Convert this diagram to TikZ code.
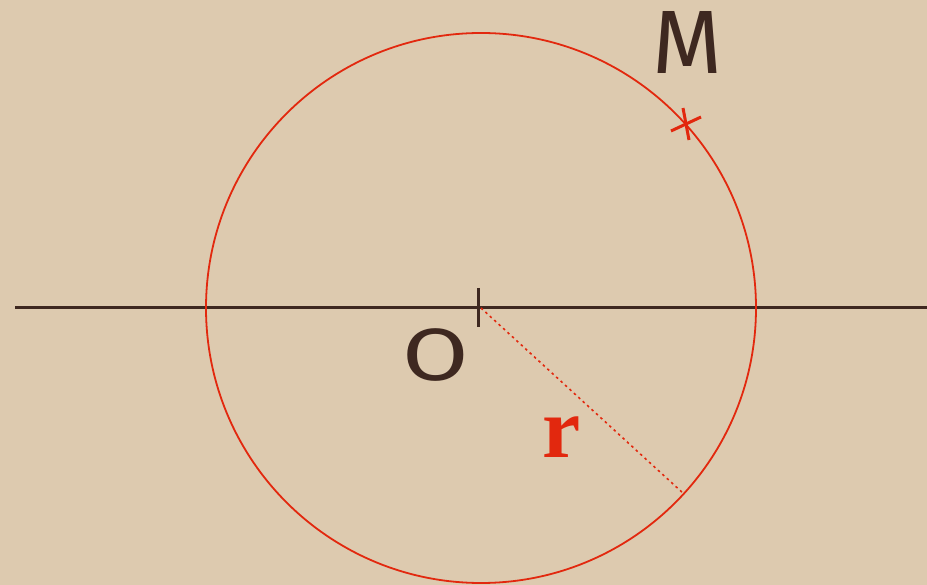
\documentclass[tikz,border=0pt]{standalone}
\usepackage{fontspec}
\usetikzlibrary{calc}
\newfontfamily\handfont{Fira Sans}
\newfontfamily\serifbold{Liberation Serif}
\definecolor{paper}{RGB}{221,202,175}
\definecolor{redline}{RGB}{226,40,14}
\definecolor{ink}{RGB}{62,40,32}
\tikzset{
  axisline/.style={draw=ink, line width=3pt},
  circleline/.style={draw=redline, line width=1.8pt},
  radiusline/.style={draw=redline, line width=1.6pt, dash pattern=on 2.5pt off 3.5pt},
  marker/.style={draw=redline, line width=3pt},
  handlabel/.style={text=ink, font=\handfont\fontsize{90}{90}\selectfont, inner sep=0pt},
}
\begin{document}
\begin{tikzpicture}[x=1pt,y=-1pt]
  \fill[paper] (0,0) rectangle (927,585);
  \useasboundingbox (0,0) rectangle (927,585);
  \coordinate (C) at (481,308);
  \coordinate (L) at (15,308);
  \coordinate (R) at (927,308);
  \coordinate (T1) at (478,288);
  \coordinate (T2) at (478,327);
  \coordinate (E) at ($(C)+(42.5:275)$);
  \coordinate (Mp) at (686,124);
  % axis
  \draw[axisline] (L) -- (R);
  \draw[axisline] (T1) -- (T2);
  % circle
  \draw[circleline] (C) circle[radius=275];
  % radius
  \draw[radiusline] (C) -- (E);
  % point M cross
  \draw[marker] ($(Mp)+(-15,7)$) -- ($(Mp)+(15,-7)$);
  \draw[marker] ($(Mp)+(-3,-16)$) -- ($(Mp)+(3,16)$);
  % labels
  \node[text=ink, inner sep=0pt] (O) at (436,355)
    {\scalebox{1.3}[1]{\handfont\fontsize{74}{74}\selectfont O}};
  \node[handlabel] (M) at (688,42) {M};
  \node[text=redline, font=\serifbold\bfseries\fontsize{86}{86}\selectfont, inner sep=0pt] (r) at (562,437) {r};
\end{tikzpicture}
\end{document}
